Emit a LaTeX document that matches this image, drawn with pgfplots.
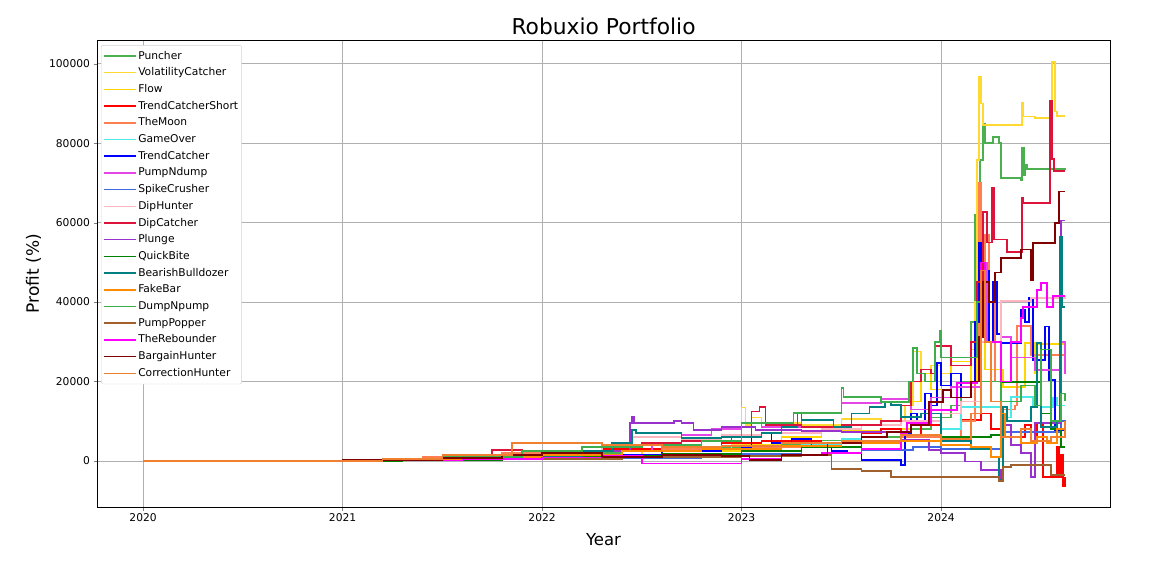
\documentclass[border=0pt]{standalone}
\usepackage{pgfplots}
\pgfplotsset{compat=1.18}
\usepackage{fontspec}
\setmainfont{DejaVu Sans}
\definecolor{ca}{RGB}{76,175,80}
\definecolor{cb}{RGB}{255,217,47}
\definecolor{cc}{RGB}{255,215,0}
\definecolor{cd}{RGB}{255,0,0}
\definecolor{ce}{RGB}{255,127,80}
\definecolor{cf}{RGB}{77,232,232}
\definecolor{cg}{RGB}{0,0,255}
\definecolor{ch}{RGB}{229,69,229}
\definecolor{ci}{RGB}{65,105,225}
\definecolor{cj}{RGB}{255,182,193}
\definecolor{ck}{RGB}{220,20,60}
\definecolor{cl}{RGB}{153,50,204}
\definecolor{cm}{RGB}{0,128,0}
\definecolor{cn}{RGB}{0,128,128}
\definecolor{co}{RGB}{255,140,0}
\definecolor{cp}{RGB}{61,174,75}
\definecolor{cq}{RGB}{160,96,45}
\definecolor{cr}{RGB}{255,0,255}
\definecolor{cs}{RGB}{128,0,0}
\definecolor{ct}{RGB}{240,128,48}
\definecolor{cgrid}{RGB}{176,176,176}
\definecolor{cleg}{RGB}{210,210,210}
\pgfplotsset{ser/.style={const plot, mark=none, line width=1.5pt, draw=#1}}
\begin{document}
\begin{tikzpicture}
\useasboundingbox (0,0) rectangle (1170pt,562pt);
\begin{axis}[
  at={(97pt,55pt)}, anchor=south west,
  scale only axis, width=1013pt, height=467pt,
  clip=false,
  xmin=2019.769, xmax=2024.847,
  ymin=-11600, ymax=106000,
  xtick={2020,2021,2022,2023,2024},
  ytick={0,20000,40000,60000,80000,100000},
  scaled y ticks=false, scaled x ticks=false,
  /pgf/number format/fixed,
  /pgf/number format/precision=0,
  /pgf/number format/assume math mode=true,
  /pgf/number format/1000 sep={},
  tick label style={font=\fontsize{10.7}{12}\selectfont},
  tick align=outside, major tick length=3.5pt,
  xtick pos=bottom, ytick pos=left,
  grid=major, grid style={draw=cgrid, line width=0.8pt},
  axis line style={line width=0.8pt},
  title={Robuxio Portfolio},
  every axis title/.style={at={(axis description cs:0.5,1)}, anchor=base, yshift=5pt, inner sep=0pt, font=\fontsize{21.8}{24}\selectfont},
  xlabel={Year},
  ylabel={Profit (\%)},
  every axis x label/.style={at={(axis description cs:0.5,-0.0835)}, anchor=base, inner sep=0pt, font=\fontsize{16.5}{18}\selectfont},
  every axis y label/.style={at={(axis description cs:-0.0573,0.5)}, rotate=90, anchor=base, inner sep=0pt, font=\fontsize{17}{18}\selectfont},
  legend cell align=left,
  legend image code/.code={\draw[#1] (0pt,0pt) -- (26pt,0pt); \path (0pt,0pt) -- (32pt,0pt);},
  legend style={at={(axis description cs:0.004,0.989)}, anchor=north west,
    draw=cleg, rounded corners=2pt, fill=white,
    font=\fontsize{10.7}{12}\selectfont, row sep=3.3pt, inner xsep=2pt, inner ysep=4pt,
    nodes={inner sep=1.5pt, text height=8.2pt, text depth=2.2pt}},
]
% Puncher
\addplot[ser=ca] coordinates {(2020,0)(2020.9,100)(2021.2,400)(2021.5,900)(2021.8,1400)(2022.1,2000)(2022.4,2800)(2022.7,3300)(2023.0,4200)(2023.3,5200)(2023.6,6000)(2023.85,8000)(2023.95,11000)(2024.05,14000)(2024.1,20000)(2024.15,35000)(2024.17,62000)(2024.18,45000)(2024.195,75800)(2024.21,85000)(2024.22,80100)(2024.26,81600)(2024.29,80000)(2024.3,71300)(2024.4,70800)(2024.405,78800)(2024.415,72000)(2024.42,74500)(2024.43,73500)(2024.62,73300)};
\addlegendentry{Puncher}
% VolatilityCatcher
\addplot[ser=cb] coordinates {(2020,0)(2021,200)(2021.5,700)(2022,1300)(2022.5,2500)(2022.95,4000)(2023.0,13500)(2023.02,9000)(2023.05,11000)(2023.1,9500)(2023.3,9000)(2023.5,10500)(2023.7,10000)(2023.82,14000)(2023.86,27500)(2023.9,20000)(2023.95,24000)(2024.0,22000)(2024.05,25000)(2024.15,28000)(2024.17,40000)(2024.18,75800)(2024.19,96700)(2024.2,90000)(2024.21,84600)(2024.4,84600)(2024.405,90200)(2024.41,86700)(2024.47,86400)(2024.55,86400)(2024.555,100500)(2024.57,88000)(2024.58,86900)(2024.62,86900)};
\addlegendentry{VolatilityCatcher}
% Flow
\addplot[ser=cc] coordinates {(2020,0)(2021.2,300)(2021.7,800)(2022.2,1500)(2022.6,2500)(2023.0,4000)(2023.2,6000)(2023.4,7500)(2023.7,8000)(2023.85,15000)(2023.9,22000)(2023.95,18000)(2024.05,25000)(2024.15,20000)(2024.18,30000)(2024.2,40000)(2024.22,23000)(2024.31,18600)(2024.42,29700)(2024.47,22000)(2024.48,29500)(2024.62,29500)};
\addlegendentry{Flow}
% TrendCatcherShort
\addplot[ser=cd] coordinates {(2020,0)(2021,200)(2021.6,1000)(2022,1800)(2022.3,3000)(2022.6,3500)(2022.9,4500)(2023.1,5000)(2023.4,4500)(2023.6,7000)(2023.7,8000)(2023.8,6000)(2023.9,9000)(2024.0,8000)(2024.1,10300)(2024.2,12000)(2024.25,8000)(2024.3,6000)(2024.42,9000)(2024.45,5000)(2024.48,9500)(2024.51,-4000)(2024.58,3500)(2024.59,-4000)(2024.6,1500)(2024.61,-6300)(2024.62,-4000)};
\addlegendentry{TrendCatcherShort}
% TheMoon
\addplot[ser=ce] coordinates {(2020,0)(2021,300)(2021.4,1000)(2021.8,2000)(2022.2,2500)(2022.6,3000)(2023,3500)(2023.5,4500)(2023.8,6000)(2024.0,6000)(2024.1,10000)(2024.17,30000)(2024.19,70000)(2024.2,45000)(2024.22,57000)(2024.24,40000)(2024.27,20000)(2024.3,13000)(2024.37,14000)(2024.38,34000)(2024.45,26700)(2024.62,26700)};
\addlegendentry{TheMoon}
% GameOver
\addplot[ser=cf] coordinates {(2020,0)(2021.3,200)(2021.8,600)(2022.2,1200)(2022.6,1800)(2023,2500)(2023.3,4000)(2023.5,5500)(2023.6,4500)(2023.8,6500)(2024,8000)(2024.1,13600)(2024.3,11000)(2024.35,16100)(2024.46,14000)(2024.5,13600)(2024.56,16000)(2024.58,14000)(2024.62,14000)};
\addlegendentry{GameOver}
% TrendCatcher
\addplot[ser=cg] coordinates {(2020,0)(2021,100)(2021.5,500)(2021.8,1500)(2022,2000)(2022.3,1500)(2022.6,2500)(2022.9,3000)(2023.0,3500)(2023.05,6000)(2023.1,7000)(2023.15,4500)(2023.25,5500)(2023.35,3500)(2023.45,2500)(2023.53,2000)(2023.6,250)(2023.8,-1000)(2023.82,7000)(2023.85,12000)(2023.88,10000)(2023.92,17000)(2023.95,14000)(2023.98,24700)(2024.0,19000)(2024.05,22000)(2024.1,16000)(2024.15,20000)(2024.17,35000)(2024.19,55000)(2024.2,35000)(2024.22,48000)(2024.24,30000)(2024.26,45000)(2024.28,32000)(2024.3,29700)(2024.39,29700)(2024.4,38000)(2024.42,35000)(2024.44,41000)(2024.46,25400)(2024.51,25400)(2024.52,33800)(2024.54,20400)(2024.57,7800)(2024.62,7000)};
\addlegendentry{TrendCatcher}
% PumpNdump
\addplot[ser=ch] coordinates {(2020,0)(2021,200)(2021.5,600)(2022,1000)(2022.4,2500)(2022.55,4500)(2022.7,6500)(2022.85,8000)(2023.0,9600)(2023.1,8600)(2023.3,12100)(2023.5,14600)(2023.7,15600)(2023.85,13000)(2023.95,16000)(2024.05,18600)(2024.2,35000)(2024.21,50000)(2024.23,30000)(2024.3,31200)(2024.35,26000)(2024.47,22900)(2024.58,22900)(2024.6,30000)(2024.62,22000)};
\addlegendentry{PumpNdump}
% SpikeCrusher
\addplot[ser=ci] coordinates {(2020,0)(2021.2,100)(2021.8,400)(2022.3,800)(2022.8,1500)(2023.0,1800)(2023.3,3500)(2023.6,2800)(2023.86,3500)(2024.0,3000)(2024.3,7300)(2024.58,7300)(2024.6,10000)(2024.62,9000)};
\addlegendentry{SpikeCrusher}
% DipHunter
\addplot[ser=cj] coordinates {(2020,0)(2021,200)(2021.5,700)(2022,1800)(2022.3,3500)(2022.45,6000)(2022.7,5500)(2022.9,6500)(2023.1,7000)(2023.4,8000)(2023.6,9000)(2023.8,10000)(2024.0,12000)(2024.1,15000)(2024.2,30000)(2024.25,20000)(2024.3,40300)(2024.45,41000)(2024.62,41500)};
\addlegendentry{DipHunter}
% DipCatcher
\addplot[ser=ck] coordinates {(2020,0)(2021,200)(2021.5,1000)(2021.75,2800)(2021.9,2500)(2022.2,3500)(2022.5,4500)(2022.7,5000)(2022.95,6000)(2023.05,12500)(2023.09,13600)(2023.12,9000)(2023.3,8500)(2023.5,9000)(2023.7,10000)(2023.8,14000)(2023.85,20000)(2023.9,23000)(2023.95,22000)(2023.97,29000)(2024.04,29000)(2024.05,24000)(2024.15,30000)(2024.18,45000)(2024.21,62700)(2024.23,55000)(2024.255,68800)(2024.265,55700)(2024.33,52600)(2024.405,66200)(2024.41,65000)(2024.545,90800)(2024.555,76000)(2024.565,73000)(2024.62,73000)};
\addlegendentry{DipCatcher}
% Plunge
\addplot[ser=cl] coordinates {(2020,0)(2021,100)(2021.5,500)(2021.8,1000)(2022,1000)(2022.3,2500)(2022.44,9600)(2022.45,11100)(2022.46,9600)(2022.66,10100)(2022.7,9600)(2022.76,7800)(2022.9,8600)(2023.07,7800)(2023.3,7500)(2023.5,7300)(2023.8,5300)(2023.94,2800)(2024.0,2000)(2024.12,-200)(2024.2,-2300)(2024.3,-4800)(2024.31,9000)(2024.35,4000)(2024.4,2000)(2024.45,-4000)(2024.47,9500)(2024.57,9500)(2024.6,60500)(2024.62,60500)};
\addlegendentry{Plunge}
% QuickBite
\addplot[ser=cm] coordinates {(2020,0)(2021.3,200)(2021.8,600)(2022.2,1200)(2022.6,1800)(2023,2500)(2023.3,3500)(2023.6,5000)(2023.8,6500)(2024.0,6000)(2024.25,6500)(2024.3,19900)(2024.47,19900)(2024.5,12000)(2024.55,8000)(2024.6,3500)(2024.62,3500)};
\addlegendentry{QuickBite}
% BearishBulldozer
\addplot[ser=cn] coordinates {(2020,0)(2021,100)(2021.5,400)(2021.9,1000)(2022.2,2500)(2022.35,4500)(2022.45,7800)(2022.47,7000)(2022.7,5800)(2022.9,6000)(2023.1,7000)(2023.2,8600)(2023.28,12100)(2023.3,10300)(2023.46,8600)(2023.55,12000)(2023.64,13600)(2023.72,14900)(2023.75,14100)(2023.8,11100)(2023.9,12000)(2024.0,5000)(2024.15,3000)(2024.25,1000)(2024.29,-4800)(2024.31,13600)(2024.33,10000)(2024.45,13600)(2024.48,29700)(2024.5,8600)(2024.58,10000)(2024.595,56400)(2024.605,38800)(2024.62,38800)};
\addlegendentry{BearishBulldozer}
% FakeBar
\addplot[ser=co] coordinates {(2020,0)(2021.2,300)(2021.6,1000)(2022,1500)(2022.4,2500)(2022.8,3000)(2023.2,3800)(2023.5,4500)(2023.8,5000)(2024.0,4000)(2024.15,3500)(2024.25,1000)(2024.3,12000)(2024.32,6000)(2024.4,4500)(2024.48,6000)(2024.53,4500)(2024.58,8000)(2024.62,10000)};
\addlegendentry{FakeBar}
% DumpNpump
\addplot[ser=cp] coordinates {(2020,0)(2021,200)(2021.5,1000)(2021.9,2500)(2022.2,3500)(2022.5,4000)(2022.8,5000)(2023.0,9600)(2023.24,9600)(2023.26,12100)(2023.49,12100)(2023.5,18400)(2023.51,16100)(2023.68,16100)(2023.7,14900)(2023.8,14900)(2023.84,20000)(2023.86,28500)(2023.88,22000)(2023.92,20000)(2023.97,30000)(2023.995,32700)(2024.0,26000)(2024.15,26000)(2024.18,40000)(2024.2,20000)(2024.3,15000)(2024.4,19000)(2024.47,14000)(2024.5,28000)(2024.55,10000)(2024.6,17000)(2024.62,15000)};
\addlegendentry{DumpNpump}
% PumpPopper
\addplot[ser=cq] coordinates {(2020,0)(2021.2,100)(2021.6,300)(2022,500)(2022.4,1000)(2022.8,1000)(2023.0,1200)(2023.3,1500)(2023.45,-2000)(2023.6,-2500)(2023.75,-4000)(2024.29,-5000)(2024.31,-1500)(2024.35,-1000)(2024.55,-3500)(2024.62,-3500)};
\addlegendentry{PumpPopper}
% TheRebounder
\addplot[ser=cr] coordinates {(2020,0)(2021,100)(2021.6,500)(2022,900)(2022.3,1200)(2022.5,-600)(2022.98,-600)(2023.0,500)(2023.2,1500)(2023.4,2000)(2023.6,3000)(2023.8,7000)(2023.83,9600)(2023.95,12800)(2024.08,19600)(2024.18,20000)(2024.2,50000)(2024.22,30000)(2024.3,20000)(2024.35,30000)(2024.4,36000)(2024.41,38800)(2024.48,43000)(2024.5,44800)(2024.53,38800)(2024.56,41500)(2024.62,41500)};
\addlegendentry{TheRebounder}
% BargainHunter
\addplot[ser=cs] coordinates {(2020,0)(2021,200)(2021.5,800)(2021.8,1500)(2022.0,2000)(2022.3,1000)(2022.6,1500)(2022.9,1200)(2023.04,250)(2023.2,1500)(2023.43,4500)(2023.6,6000)(2023.73,7300)(2023.85,9000)(2023.94,14900)(2024.01,17900)(2024.05,16000)(2024.15,20000)(2024.19,31200)(2024.21,45000)(2024.24,40000)(2024.27,47400)(2024.3,51100)(2024.4,53200)(2024.45,45600)(2024.46,54900)(2024.57,59900)(2024.59,67800)(2024.62,67800)};
\addlegendentry{BargainHunter}
% CorrectionHunter
\addplot[ser=ct] coordinates {(2020,0)(2021.2,500)(2021.5,1500)(2021.85,4500)(2022.3,4000)(2022.6,3500)(2022.9,3800)(2023.2,4500)(2023.5,5000)(2023.8,6500)(2024.0,5500)(2024.15,12000)(2024.2,48000)(2024.22,30000)(2024.25,15000)(2024.3,6000)(2024.4,8000)(2024.45,5000)(2024.55,6000)(2024.62,10000)};
\addlegendentry{CorrectionHunter}
\end{axis}
\end{tikzpicture}
\end{document}
